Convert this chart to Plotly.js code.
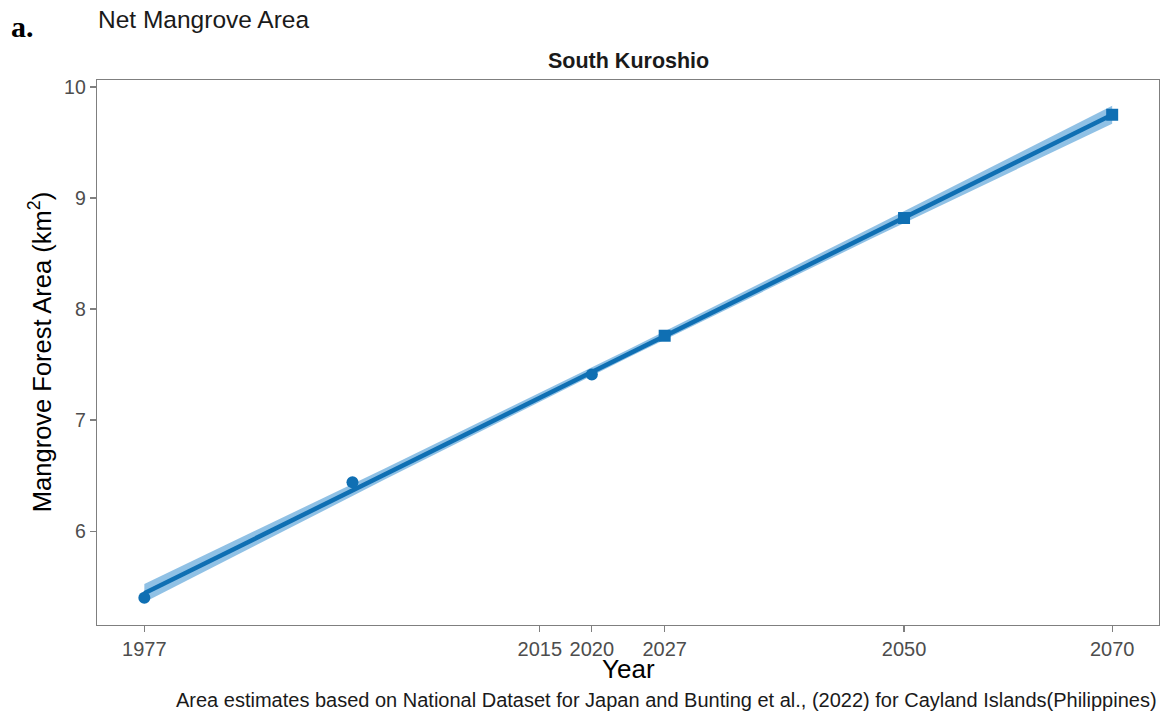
<!DOCTYPE html>
<html>
<head>
<meta charset="utf-8">
<script src="https://cdn.plot.ly/plotly-3.0.1.min.js"></script>
<style>html,body{margin:0;padding:0;background:#fff;}#chart{width:1164px;height:715px;}</style>
</head>
<body>
<div id="chart"></div>
<script>
// Observed / projected points
var obsYears = [1977, 1997, 2020];
var obsValues = [5.40, 6.44, 7.41];
var projYears = [2027, 2050, 2070];
var projValues = [7.76, 8.82, 9.75];
// Fitted line and its confidence ribbon
var fitYears = [1977, 2070];
var fitValues = [5.44, 9.75];
var bandYears = [1977, 2000, 2023.5, 2047, 2070];
var bandUpper = [5.525, 6.56, 7.635, 8.74, 9.83];
var bandLower = [5.36, 6.46, 7.565, 8.64, 9.67];
// Axis ticks
var xTicks = [1977, 2015, 2020, 2027, 2050, 2070];
var yTicks = [6, 7, 8, 9, 10];

var blue = '#0f6fb3';
var ribbon = 'rgba(125,182,224,0.85)';
var font = 'Liberation Sans, Arial, sans-serif';

var traces = [
  {x: bandYears, y: bandLower, mode: 'lines', line: {width: 0, color: ribbon}, hoverinfo: 'skip', showlegend: false},
  {x: bandYears, y: bandUpper, mode: 'lines', line: {width: 0, color: ribbon}, fill: 'tonexty', fillcolor: ribbon, hoverinfo: 'skip', showlegend: false},
  {x: fitYears, y: fitValues, mode: 'lines', line: {width: 4.5, color: blue}, showlegend: false},
  {x: obsYears, y: obsValues, mode: 'markers', marker: {symbol: 'circle', size: 12, color: blue}, showlegend: false},
  {x: projYears, y: projValues, mode: 'markers', marker: {symbol: 'square', size: 12, color: blue}, showlegend: false}
];

var layout = {
  width: 1164, height: 715,
  margin: {l: 97, r: 5, t: 80, b: 90},
  paper_bgcolor: '#fff', plot_bgcolor: '#fff',
  font: {family: font, color: '#4d4d4d'},
  xaxis: {
    range: [1972.45, 2074.5], tickvals: xTicks, ticktext: xTicks.map(String),
    showgrid: false, zeroline: false, showline: true, mirror: true, linecolor: '#7f7f7f', linewidth: 1.3,
    ticks: 'outside', ticklen: 6, tickcolor: '#7f7f7f', tickwidth: 1.3,
    tickfont: {size: 20, color: '#4d4d4d', family: font}
  },
  yaxis: {
    range: [5.155, 10.063], tickvals: yTicks, ticktext: yTicks.map(String),
    showgrid: false, zeroline: false, showline: true, mirror: true, linecolor: '#7f7f7f', linewidth: 1.3,
    ticks: 'outside', ticklen: 6, tickcolor: '#7f7f7f', tickwidth: 1.3,
    tickfont: {size: 19.5, color: '#4d4d4d', family: font}
  },
  annotations: [
    {text: '<b>a.</b>', xref: 'paper', yref: 'paper', x: -0.083, y: 1.098, xanchor: 'left', yanchor: 'middle', showarrow: false,
     font: {family: 'Liberation Serif, Times New Roman, serif', size: 30, color: '#000'}},
    {text: 'Net Mangrove Area', xref: 'paper', yref: 'paper', x: -0.001, y: 1.111, xanchor: 'left', yanchor: 'middle', showarrow: false,
     font: {family: font, size: 24.5, color: '#1a1a1a'}},
    {text: '<b>South Kuroshio</b>', xref: 'paper', yref: 'paper', x: 0.5, y: 1.034, xanchor: 'center', yanchor: 'middle', showarrow: false,
     font: {family: font, size: 21.5, color: '#1a1a1a'}},
    {text: 'Mangrove Forest Area (km<sup>2</sup>)', xref: 'paper', yref: 'paper', x: -0.054, y: 0.5, xanchor: 'center', yanchor: 'middle', textangle: -90, showarrow: false,
     font: {family: font, size: 25.5, color: '#000'}},
    {text: 'Year', xref: 'paper', yref: 'paper', x: 0.5, y: -0.08, xanchor: 'center', yanchor: 'middle', showarrow: false,
     font: {family: font, size: 26, color: '#000'}},
    {text: 'Area estimates based on National Dataset for Japan and Bunting et al., (2022) for Cayland Islands(Philippines)', xref: 'paper', yref: 'paper', x: 1.0, y: -0.138, xanchor: 'right', yanchor: 'middle', showarrow: false,
     font: {family: font, size: 20, color: '#1a1a1a'}}
  ]
};

Plotly.newPlot('chart', traces, layout, {displayModeBar: false, staticPlot: true});
</script>
</body>
</html>
